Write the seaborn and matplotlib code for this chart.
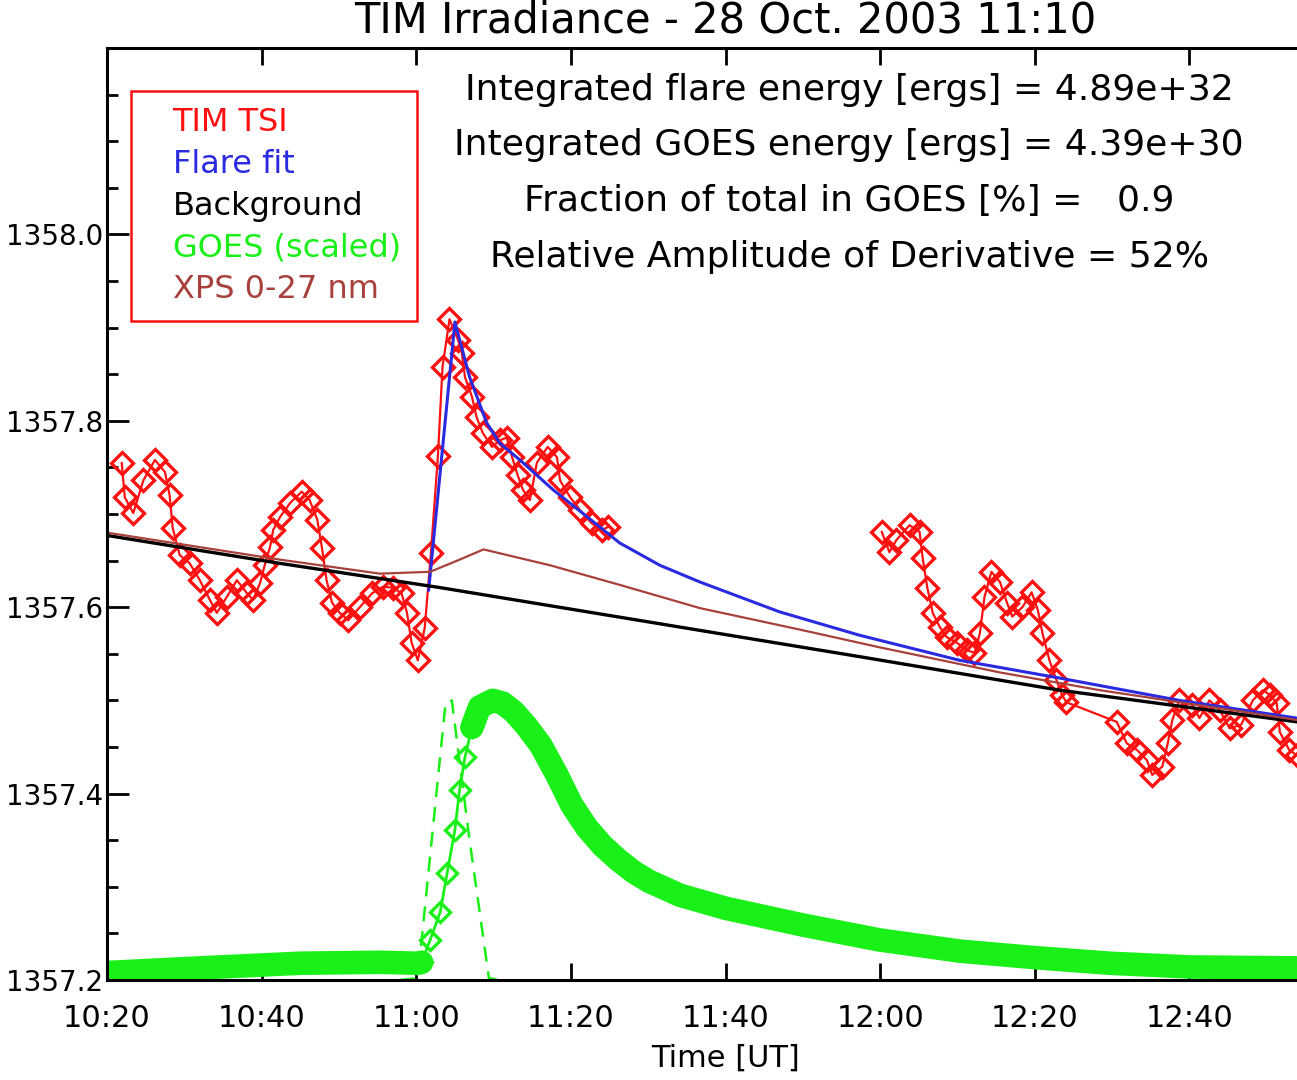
import numpy as np
import pandas as pd
import seaborn as sns
import matplotlib.pyplot as plt
from matplotlib.ticker import MultipleLocator

# time axis: minutes after 10:00 UT, irradiance in W/m^2
# TIM TSI, before the flare and through the impulsive phase
tsi_t1 = [21.9, 22.3, 23.4, 24.7, 26.2, 27.5, 28.1, 28.5, 29.4, 30.7, 32.0, 33.3, 34.2,
          35.5, 36.8, 38.1, 38.9, 39.8, 40.4, 41.1, 41.5, 42.4, 43.7, 45.2, 46.2, 47.2,
          47.8, 48.4, 49.1, 50.1, 51.2, 52.7, 54.3, 55.7, 57.0, 58.1, 58.8, 59.4, 60.2,
          61.1, 61.9, 62.8, 63.4, 64.3, 65.4, 65.9, 66.3, 67.2, 67.8, 68.6, 69.8, 70.8,
          71.7, 72.4, 73.1, 73.8, 74.7, 75.6, 77.0, 78.2, 78.6, 79.9, 81.2, 82.7, 84.0, 84.8]
tsi_v1 = [1357.755, 1357.718, 1357.701, 1357.736, 1357.758, 1357.745, 1357.720, 1357.685,
          1357.656, 1357.647, 1357.629, 1357.608, 1357.594, 1357.611, 1357.629, 1357.615,
          1357.608, 1357.626, 1357.645, 1357.665, 1357.683, 1357.697, 1357.712, 1357.724,
          1357.715, 1357.694, 1357.664, 1357.629, 1357.605, 1357.594, 1357.586, 1357.600,
          1357.615, 1357.622, 1357.621, 1357.615, 1357.594, 1357.562, 1357.543, 1357.578,
          1357.658, 1357.762, 1357.858, 1357.909, 1357.887, 1357.873, 1357.847, 1357.826,
          1357.804, 1357.787, 1357.772, 1357.779, 1357.782, 1357.761, 1357.742, 1357.726,
          1357.715, 1357.755, 1357.772, 1357.761, 1357.736, 1357.718, 1357.704, 1357.690,
          1357.683, 1357.686]

# TIM TSI after the data gap
tsi_t2 = [120.2, 121.2, 122.1, 123.8, 125.1, 125.5, 126.1, 126.8, 127.7, 128.6, 129.9,
          131.2, 132.2, 132.9, 133.5, 134.4, 135.5, 136.4, 137.1, 138.4, 139.6, 140.4,
          141.0, 141.9, 142.8, 143.5, 144.1, 150.6, 151.9, 153.2, 154.5, 155.2, 156.5,
          157.2, 157.8, 158.7, 160.4, 161.3, 162.6, 163.9, 165.2, 166.7, 168.2, 169.5,
          170.4, 171.3, 171.7, 172.9, 173.9]
tsi_v2 = [1357.681, 1357.659, 1357.672, 1357.688, 1357.681, 1357.653, 1357.621, 1357.594,
          1357.579, 1357.568, 1357.562, 1357.554, 1357.551, 1357.572, 1357.611, 1357.638,
          1357.627, 1357.605, 1357.590, 1357.600, 1357.616, 1357.597, 1357.572, 1357.543,
          1357.522, 1357.506, 1357.498, 1357.477, 1357.454, 1357.447, 1357.436, 1357.420,
          1357.429, 1357.454, 1357.479, 1357.500, 1357.495, 1357.481, 1357.500, 1357.490,
          1357.470, 1357.474, 1357.500, 1357.511, 1357.506, 1357.497, 1357.466, 1357.447,
          1357.441]

# flare fit
fit_t = [61.6, 65.0, 66.9, 69.1, 70.8, 73.4, 77.7, 82.1, 86.3, 91.5, 96.7, 107.0,
         117.3, 130.3, 143.2, 158.7, 173.9, 180.0]
fit_v = [1357.618, 1357.906, 1357.847, 1357.798, 1357.776, 1357.758, 1357.726, 1357.697,
         1357.669, 1357.645, 1357.627, 1357.595, 1357.570, 1357.543, 1357.524, 1357.500,
         1357.481, 1357.476]

# background
bg_t = [20.0, 42.4, 63.1, 117.3, 143.2, 173.9, 180.0]
bg_v = [1357.677, 1357.647, 1357.621, 1357.547, 1357.511, 1357.477, 1357.470]

# XPS 0-27 nm
xps_t = [20.0, 42.4, 55.3, 61.8, 65.6, 68.7, 77.3, 86.3, 96.7, 109.6, 119.9, 135.5,
         148.4, 173.9, 180.0]
xps_v = [1357.680, 1357.651, 1357.636, 1357.638, 1357.651, 1357.662, 1357.645, 1357.624,
         1357.599, 1357.576, 1357.557, 1357.530, 1357.511, 1357.479, 1357.472]

# GOES (scaled)
goes_t = [20.0, 32.0, 45.0, 55.3, 60.1, 60.7, 61.8, 63.1, 64.0, 65.0, 65.6, 66.3, 67.2,
          68.2, 69.9, 71.2, 72.6, 74.2, 76.1, 78.2, 80.1, 82.1, 84.1, 86.1, 88.1, 90.1,
          94.1, 100.0, 110.0, 119.9, 130.3, 140.0, 149.7, 160.0, 173.9, 180.0]
goes_v = [1357.208, 1357.213, 1357.218, 1357.219, 1357.218, 1357.219, 1357.243, 1357.273,
          1357.315, 1357.361, 1357.404, 1357.439, 1357.471, 1357.493, 1357.500, 1357.497,
          1357.488, 1357.473, 1357.452, 1357.420, 1357.388, 1357.363, 1357.344, 1357.329,
          1357.316, 1357.306, 1357.291, 1357.277, 1357.259, 1357.243, 1357.231, 1357.224,
          1357.218, 1357.214, 1357.213, 1357.213]

# GOES derivative (scaled, dashed)
der_t = [57.9, 60.2, 63.8, 64.6, 66.9, 69.4, 70.8]
der_v = [1357.200, 1357.202, 1357.498, 1357.500, 1357.350, 1357.202, 1357.200]

xtick_pos = [20, 40, 60, 80, 100, 120, 140, 160]
xtick_lab = ['10:20', '10:40', '11:00', '11:20', '11:40', '12:00', '12:20', '12:40']
ytick_pos = [1357.2, 1357.4, 1357.6, 1357.8, 1358.0]

stats = ['Integrated flare energy [ergs] = 4.89e+32',
         'Integrated GOES energy [ergs] = 4.39e+30',
         'Fraction of total in GOES [%] =   0.9',
         'Relative Amplitude of Derivative = 52%']

RED = '#ff1010'
BLUE = '#2a2ae0'
GREEN = '#18f018'
BROWN = '#a8403c'

sns.set_theme(style='white')
plt.rcParams['font.family'] = ['DejaVu Sans']
plt.rcParams['text.color'] = 'black'

fig = plt.figure(figsize=(12.97, 10.8), dpi=100)
ax = fig.add_axes([107 / 1297, 100 / 1080, 1237 / 1297, 932 / 1080])

goes = pd.DataFrame({'t': goes_t, 'v': goes_v})
rise = goes[(goes.t >= 60.1) & (goes.t <= 67.2)]
pre = goes[goes.t <= 60.7]
post = goes[goes.t >= 67.2]

sns.lineplot(x=tsi_t1, y=tsi_v1, ax=ax, color=RED, lw=1.6, marker='D', markersize=11.5,
             markerfacecolor='none', markeredgecolor=RED, markeredgewidth=2.4,
             sort=False, estimator=None, zorder=2, label='TIM TSI')
sns.lineplot(x=tsi_t2, y=tsi_v2, ax=ax, color=RED, lw=1.6, marker='D', markersize=11.5,
             markerfacecolor='none', markeredgecolor=RED, markeredgewidth=2.4,
             sort=False, estimator=None, zorder=2)
sns.lineplot(x=fit_t, y=fit_v, ax=ax, color=BLUE, lw=2.2, sort=False, estimator=None,
             zorder=3, label='Flare fit')
sns.lineplot(x=bg_t, y=bg_v, ax=ax, color='black', lw=2.4, sort=False, estimator=None,
             zorder=4, label='Background')
sns.lineplot(data=pre, x='t', y='v', ax=ax, color=GREEN, lw=17, sort=False,
             estimator=None, zorder=5, label='GOES (scaled)', solid_capstyle='round')
sns.lineplot(data=post, x='t', y='v', ax=ax, color=GREEN, lw=17, sort=False,
             estimator=None, zorder=5, solid_capstyle='round', solid_joinstyle='round')
sns.lineplot(data=rise, x='t', y='v', ax=ax, color=GREEN, lw=2, marker='D', markersize=10.5,
             markerfacecolor='none', markeredgecolor=GREEN, markeredgewidth=2.4,
             sort=False, estimator=None, zorder=5)
ax.plot(der_t, der_v, color=GREEN, lw=1.8, linestyle=(0, (6, 4)), zorder=5)
sns.lineplot(x=xps_t, y=xps_v, ax=ax, color=BROWN, lw=1.6, sort=False, estimator=None,
             zorder=6, label='XPS 0-27 nm')

ax.set_xlim(20, 180)
ax.set_ylim(1357.2, 1358.2)
ax.set_xticks(xtick_pos)
ax.set_xticklabels(xtick_lab)
ax.set_yticks(ytick_pos)
ax.set_yticklabels([f'{v:.1f}' for v in ytick_pos])
ax.yaxis.set_minor_locator(MultipleLocator(0.05))

ax.tick_params(axis='x', which='major', direction='in', top=True, bottom=True,
               length=12, width=2, labelsize=22, pad=17, colors='black')
ax.tick_params(axis='y', which='major', direction='in', left=True, right=False,
               length=16, width=2, labelsize=20, pad=3, colors='black')
ax.tick_params(axis='y', which='minor', direction='in', left=True, right=False,
               length=8, width=2, colors='black')
for side in ['left', 'top', 'bottom', 'right']:
    ax.spines[side].set_linewidth(2.2)
    ax.spines[side].set_color('black')
    ax.spines[side].set_zorder(7)

ax.set_xlabel('Time [UT]', fontsize=22, labelpad=8, color='black')
ax.set_ylabel('')
ax.set_title('TIM Irradiance - 28 Oct. 2003 11:10', fontsize=30, pad=11, color='black')

ypos = [0.9442, 0.8852, 0.8251, 0.7650]
for s, y in zip(stats, ypos):
    ax.text(0.600, y, s, transform=ax.transAxes, ha='center', va='baseline',
            fontsize=26, color='black')

leg = ax.legend(loc='upper left', bbox_to_anchor=(0.0194, 0.954), borderaxespad=0,
                fontsize=23, frameon=True, fancybox=False, framealpha=1,
                edgecolor=RED, borderpad=0.5, labelspacing=0.34,
                handlelength=0.6, handletextpad=0.2)
leg.get_frame().set_linewidth(1.8)
for h in leg.legend_handles:
    h.set_visible(False)
for txt, c in zip(leg.get_texts(), [RED, BLUE, 'black', GREEN, BROWN]):
    txt.set_color(c)

fig.savefig('out.png', dpi=100)
